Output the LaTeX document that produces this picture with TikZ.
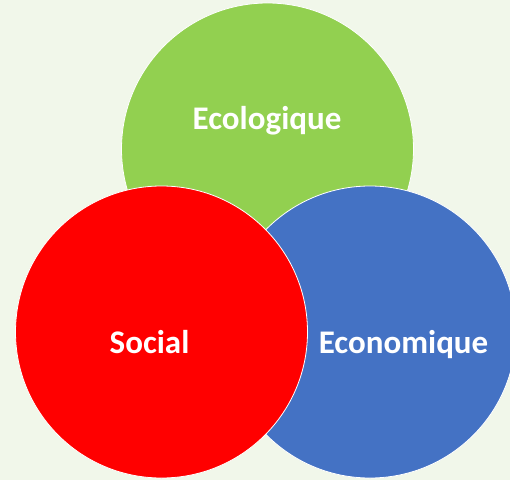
\documentclass[tikz,border=0pt]{standalone}
\usepackage{fontspec}
\setmainfont{Carlito}
\definecolor{bg}{HTML}{F1F7EA}
\definecolor{ecogreen}{HTML}{92D050}
\definecolor{ecoblue}{HTML}{4472C4}
\definecolor{ecored}{HTML}{FF0000}
\begin{document}
\begin{tikzpicture}[x=1pt,y=1pt,
  disc/.style={circle, draw=white, line width=0.8pt, minimum size=292pt, inner sep=0pt},
  lbl/.style={text=white, font=\bfseries\fontsize{33}{33}\selectfont, anchor=base, inner sep=0pt}]
\fill[bg] (0,0) rectangle (510,480);
\useasboundingbox (0,0) rectangle (510,480);
\begin{scope}
\clip (0,0) rectangle (510,480);
\node[disc, fill=ecogreen] (eco) at (267.5,331) {};
\node[disc, fill=ecoblue] (econ) at (370,148) {};
\node[disc, fill=ecored] (soc) at (161.5,148) {};
\end{scope}
\node[lbl] (t1) at (267,351) {Ecologique};
\node[lbl] (t2) at (149.5,127) {Social};
\node[lbl] (t3) at (403.5,127) {Economique};
\end{tikzpicture}
\end{document}
